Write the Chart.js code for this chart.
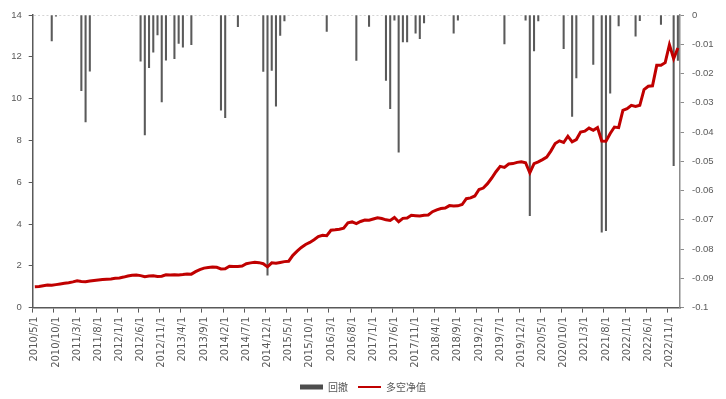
<!DOCTYPE html>
<html>
<head>
<meta charset="utf-8">
<script src="https://cdn.jsdelivr.net/npm/chart.js@4/dist/chart.umd.min.js"></script>
<style>
  html, body { margin: 0; padding: 0; background: #fff; }
</style>
</head>
<body>
<canvas id="ddChart" width="726" height="399"></canvas>
<script>
// monthly points, 2010/5 .. 2023/1
const START_YEAR = 2010;
const START_MONTH = 5;
const N_MONTHS = 153;

// 多空净值 (left axis)
const netValue = [
  1.00, 1.01, 1.05, 1.08, 1.07, 1.10, 1.13, 1.16, 1.19, 1.23,
  1.28, 1.25, 1.24, 1.27, 1.30, 1.32, 1.34, 1.36, 1.37, 1.40,
  1.42, 1.46, 1.51, 1.55, 1.56, 1.53, 1.48, 1.51, 1.52, 1.49,
  1.50, 1.57, 1.56, 1.57, 1.56, 1.58, 1.61, 1.60, 1.72, 1.82,
  1.89, 1.92, 1.94, 1.93, 1.85, 1.86, 1.98, 1.97, 1.97, 1.99,
  2.10, 2.14, 2.17, 2.15, 2.10, 1.95, 2.14, 2.12, 2.16, 2.20,
  2.22, 2.50, 2.70, 2.88, 3.02, 3.12, 3.25, 3.40, 3.46, 3.44,
  3.70, 3.72, 3.75, 3.80, 4.06, 4.10, 4.02, 4.12, 4.19, 4.18,
  4.24, 4.30, 4.26, 4.20, 4.17, 4.31, 4.11, 4.27, 4.29, 4.42,
  4.40, 4.38, 4.42, 4.43, 4.59, 4.68, 4.74, 4.76, 4.88, 4.86,
  4.87, 4.93, 5.21, 5.25, 5.34, 5.65, 5.72, 5.93, 6.20, 6.50,
  6.76, 6.71, 6.87, 6.89, 6.95, 6.98, 6.93, 6.45, 6.89, 6.97,
  7.08, 7.20, 7.50, 7.85, 7.98, 7.90, 8.20, 7.93, 8.04, 8.40,
  8.44, 8.59, 8.48, 8.61, 7.97, 7.96, 8.33, 8.64, 8.61, 9.44,
  9.52, 9.68, 9.63, 9.68, 10.43, 10.59, 10.61, 11.59, 11.59, 11.72,
  12.58, 11.91, 12.42,
];

// 回撤 (right axis)
const drawdown = [
  0, 0, 0, 0, -0.0089, -0.0004, 0, 0, 0, 0,
  0, -0.0259, -0.0365, -0.0192, 0, 0, 0, 0, 0, 0,
  0, 0, 0, 0, 0, -0.0158, -0.041, -0.018, -0.0127, -0.0068,
  -0.0297, -0.0154, 0, -0.0149, -0.0097, -0.011, 0, -0.0101, 0, 0,
  0, 0, 0, 0, -0.0325, -0.0351, 0, 0, -0.004, 0,
  0, 0, 0, 0, -0.0193, -0.0889, -0.0189, -0.0312, -0.007, -0.002,
  0, 0, 0, 0, 0, 0, 0, 0, 0, -0.0056,
  0, 0, 0, 0, 0, 0, -0.0155, 0, 0, -0.0039,
  0, 0, 0, -0.0224, -0.032, -0.0018, -0.0469, -0.0092, -0.0092, 0,
  -0.0062, -0.0081, -0.0027, 0, 0, 0, 0, 0, 0, -0.0062,
  -0.0018, 0, 0, 0, 0, 0, 0, 0, 0, 0,
  0, -0.0099, 0, 0, 0, 0, -0.0018, -0.0686, -0.0123, -0.002,
  0, 0, 0, 0, 0, -0.0115, 0, -0.0347, -0.0215, 0,
  0, 0, -0.0169, 0, -0.0742, -0.0737, -0.0267, 0, -0.0037, 0,
  0, 0, -0.0072, -0.0019, 0, 0, 0, 0, -0.0032, 0,
  0, -0.0515, -0.0155,
];

const LABEL_EVERY = 5;

const labels = [];
for (let i = 0; i < N_MONTHS; i++) {
  const m0 = START_MONTH - 1 + i;
  labels.push(`${START_YEAR + Math.floor(m0 / 12)}/${(m0 % 12) + 1}/1`);
}

const GRAY = "#595959";
const LIGHT_GRAY = "#8c8c8c";

const canvas = document.getElementById("ddChart");
new Chart(canvas.getContext("2d"), {
  data: {
    labels,
    datasets: [
      {
        type: "bar",
        label: "回撤",
        data: drawdown,
        yAxisID: "y1",
        backgroundColor: "#5a5a5a",
        barThickness: 1.4,
        pointStyle: "rect",
        order: 2,
      },
      {
        type: "line",
        label: "多空净值",
        data: netValue,
        yAxisID: "y",
        borderColor: "#C00000",
        backgroundColor: "#C00000",
        borderWidth: 3,
        pointRadius: 0,
        tension: 0,
        pointStyle: "line",
        order: 1,
      },
    ],
  },
  options: {
    responsive: false,
    animation: false,
    layout: { padding: { top: 15, left: 0, right: 0, bottom: -3 } },
    plugins: {
      tooltip: { enabled: false },
      legend: {
        position: "bottom",
        labels: {
          usePointStyle: true,
          pointStyleWidth: 23,
          boxHeight: 5,
          padding: 10,
          color: GRAY,
          font: { family: "Noto Sans CJK SC", size: 10 },
          generateLabels(chart) {
            const items = Chart.defaults.plugins.legend.labels.generateLabels(chart);
            items.sort((a, b) => a.datasetIndex - b.datasetIndex);
            items.forEach((it) => {
              if (it.pointStyle === "line") it.lineWidth = 2;
              else { it.lineWidth = 0; it.fillStyle = "#4d4d4d"; }
            });
            return items;
          },
        },
      },
    },
    scales: {
      x: {
        offset: true,
        grid: {
          offset: true,
          drawOnChartArea: false,
          tickLength: 5,
          color: (ctx) => (ctx.index % LABEL_EVERY === 0 ? GRAY : "rgba(0,0,0,0)"),
        },
        border: { color: GRAY, width: 1.5 },
        ticks: {
          autoSkip: false,
          maxRotation: 90,
          minRotation: 90,
          padding: 4,
          color: GRAY,
          font: { family: "DejaVu Sans", size: 10 },
          callback: (v, i) => (i % LABEL_EVERY === 0 ? labels[i] : ""),
        },
        afterFit: (s) => { s.height = 64.4; },
      },
      y: {
        position: "left",
        min: 0,
        max: 14,
        ticks: {
          stepSize: 2,
          padding: 7,
          color: GRAY,
          font: { family: "Liberation Sans", size: 9.5 },
        },
        grid: { drawOnChartArea: false, tickLength: 4, color: GRAY },
        border: { color: GRAY, width: 1.5 },
        afterFit: (s) => { s.width = 32.7; },
      },
      y1: {
        position: "right",
        min: -0.1,
        max: 0,
        ticks: {
          stepSize: 0.01,
          padding: 8,
          color: GRAY,
          font: { family: "Liberation Sans", size: 9.5 },
          callback: (v) => String(+v.toFixed(2)),
        },
        grid: { drawOnChartArea: false, tickLength: 4, color: LIGHT_GRAY },
        border: { color: LIGHT_GRAY, width: 1.5 },
        afterFit: (s) => { s.width = 46; },
      },
    },
  },
});
</script>
</body>
</html>
